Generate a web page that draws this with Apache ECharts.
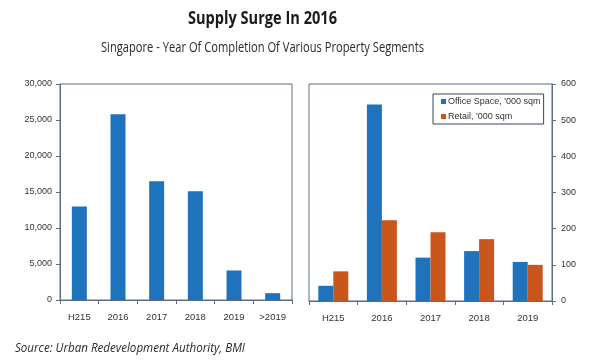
<!DOCTYPE html>
<html>
<head>
<meta charset="utf-8">
<script src="https://cdn.jsdelivr.net/npm/echarts@6/dist/echarts.min.js"></script>
<style>html,body{margin:0;padding:0;background:#fff}#c{width:600px;height:360px}</style>
</head>
<body>
<div id="c"></div>
<script>
var titleText = 'Supply Surge In 2016';
var subtitleText = 'Singapore - Year Of Completion Of Various Property Segments';
var sourceText = 'Source: Urban Redevelopment Authority, BMI';

var leftCategories = ['H215', '2016', '2017', '2018', '2019', '>2019'];
var leftValues = [13000, 25800, 16500, 15100, 4100, 950];

var rightCategories = ['H215', '2016', '2017', '2018', '2019'];
var officeName = "Office Space, '000 sqm";
var retailName = "Retail, '000 sqm";
var officeValues = [42, 543, 120, 138, 108];
var retailValues = [82, 223, 190, 171, 100];

var BLUE = '#1f73bd';
var ORANGE = '#c9561c';
var FRAME = '#5f6a85';
var LABEL = '#333333';
var FONT = 'Liberation Sans, Arial, sans-serif';

// condensed text emulation: measure the text and squeeze to the reference width
var mctx = document.createElement('canvas').getContext('2d');
function squeeze(text, font, targetWidth) {
  mctx.font = font;
  var w = mctx.measureText(text).width;
  return w > 0 ? targetWidth / w : 1;
}
var titleFont = 'bold 18px "Open Sans", sans-serif';
var subFont = '14px "Open Sans", sans-serif';
var srcFont = 'italic 13.5px "Open Sans", sans-serif';

var chart = echarts.init(document.getElementById('c'));
chart.setOption({
  backgroundColor: '#ffffff',
  animation: false,
  graphic: [
    { type: 'text', x: 262.5, y: 10, scaleX: squeeze(titleText, titleFont, 149),
      style: { text: titleText, font: titleFont, fill: '#1a1a1a', textAlign: 'center' } },
    { type: 'text', x: 262.5, y: 41, scaleX: squeeze(subtitleText, subFont, 323),
      style: { text: subtitleText, font: subFont, fill: '#2a2a2a', textAlign: 'center' } },
    { type: 'text', x: 15, y: 341, scaleX: squeeze(sourceText, srcFont, 230),
      style: { text: sourceText, font: srcFont, fill: '#2a2a2a', textAlign: 'left' } }
  ],
  legend: {
    data: [officeName, retailName],
    orient: 'vertical',
    left: 433, top: 94,
    padding: [3, 3, 3, 8],
    itemGap: 6,
    itemWidth: 5, itemHeight: 5,
    icon: 'rect',
    borderColor: '#3a4466', borderWidth: 1,
    textStyle: { fontFamily: FONT, fontSize: 9, color: LABEL, padding: [0, 0, 0, -3] }
  },
  grid: [
    { left: 60, right: 308, top: 84, bottom: 60, show: true, borderColor: FRAME, borderWidth: 1, containLabel: false },
    { left: 309, right: 48, top: 84, bottom: 59, show: true, borderColor: FRAME, borderWidth: 1, containLabel: false }
  ],
  xAxis: [
    { type: 'category', gridIndex: 0, data: leftCategories,
      axisLine: { lineStyle: { color: FRAME } },
      axisTick: { show: true, length: 4, lineStyle: { color: FRAME } },
      axisLabel: { color: LABEL, fontFamily: FONT, fontSize: 9.5, margin: 12 } },
    { type: 'category', gridIndex: 1, data: rightCategories,
      axisLine: { lineStyle: { color: FRAME } },
      axisTick: { show: true, length: 4, lineStyle: { color: FRAME } },
      axisLabel: { color: LABEL, fontFamily: FONT, fontSize: 9.5, margin: 12 } }
  ],
  yAxis: [
    { type: 'value', gridIndex: 0, min: 0, max: 30000, interval: 5000, position: 'left',
      axisLine: { show: true, lineStyle: { color: FRAME } },
      axisTick: { show: true, length: 4, lineStyle: { color: FRAME } },
      splitLine: { show: false },
      axisLabel: { color: LABEL, fontFamily: FONT, fontSize: 9, margin: 8,
        formatter: function (v) { return v.toLocaleString('en-US'); } } },
    { type: 'value', gridIndex: 1, min: 0, max: 600, interval: 100, position: 'right',
      axisLine: { show: true, lineStyle: { color: FRAME } },
      axisTick: { show: true, length: 4, lineStyle: { color: FRAME } },
      splitLine: { show: false },
      axisLabel: { color: LABEL, fontFamily: FONT, fontSize: 9, margin: 9 } }
  ],
  series: [
    { type: 'bar', name: 'Total', xAxisIndex: 0, yAxisIndex: 0, data: leftValues,
      barWidth: 15, itemStyle: { color: BLUE } },
    { type: 'bar', name: officeName, xAxisIndex: 1, yAxisIndex: 1, data: officeValues,
      barWidth: 15, barGap: '0%', itemStyle: { color: BLUE } },
    { type: 'bar', name: retailName, xAxisIndex: 1, yAxisIndex: 1, data: retailValues,
      barWidth: 15, barGap: '0%', itemStyle: { color: ORANGE } }
  ]
});
</script>
</body>
</html>
